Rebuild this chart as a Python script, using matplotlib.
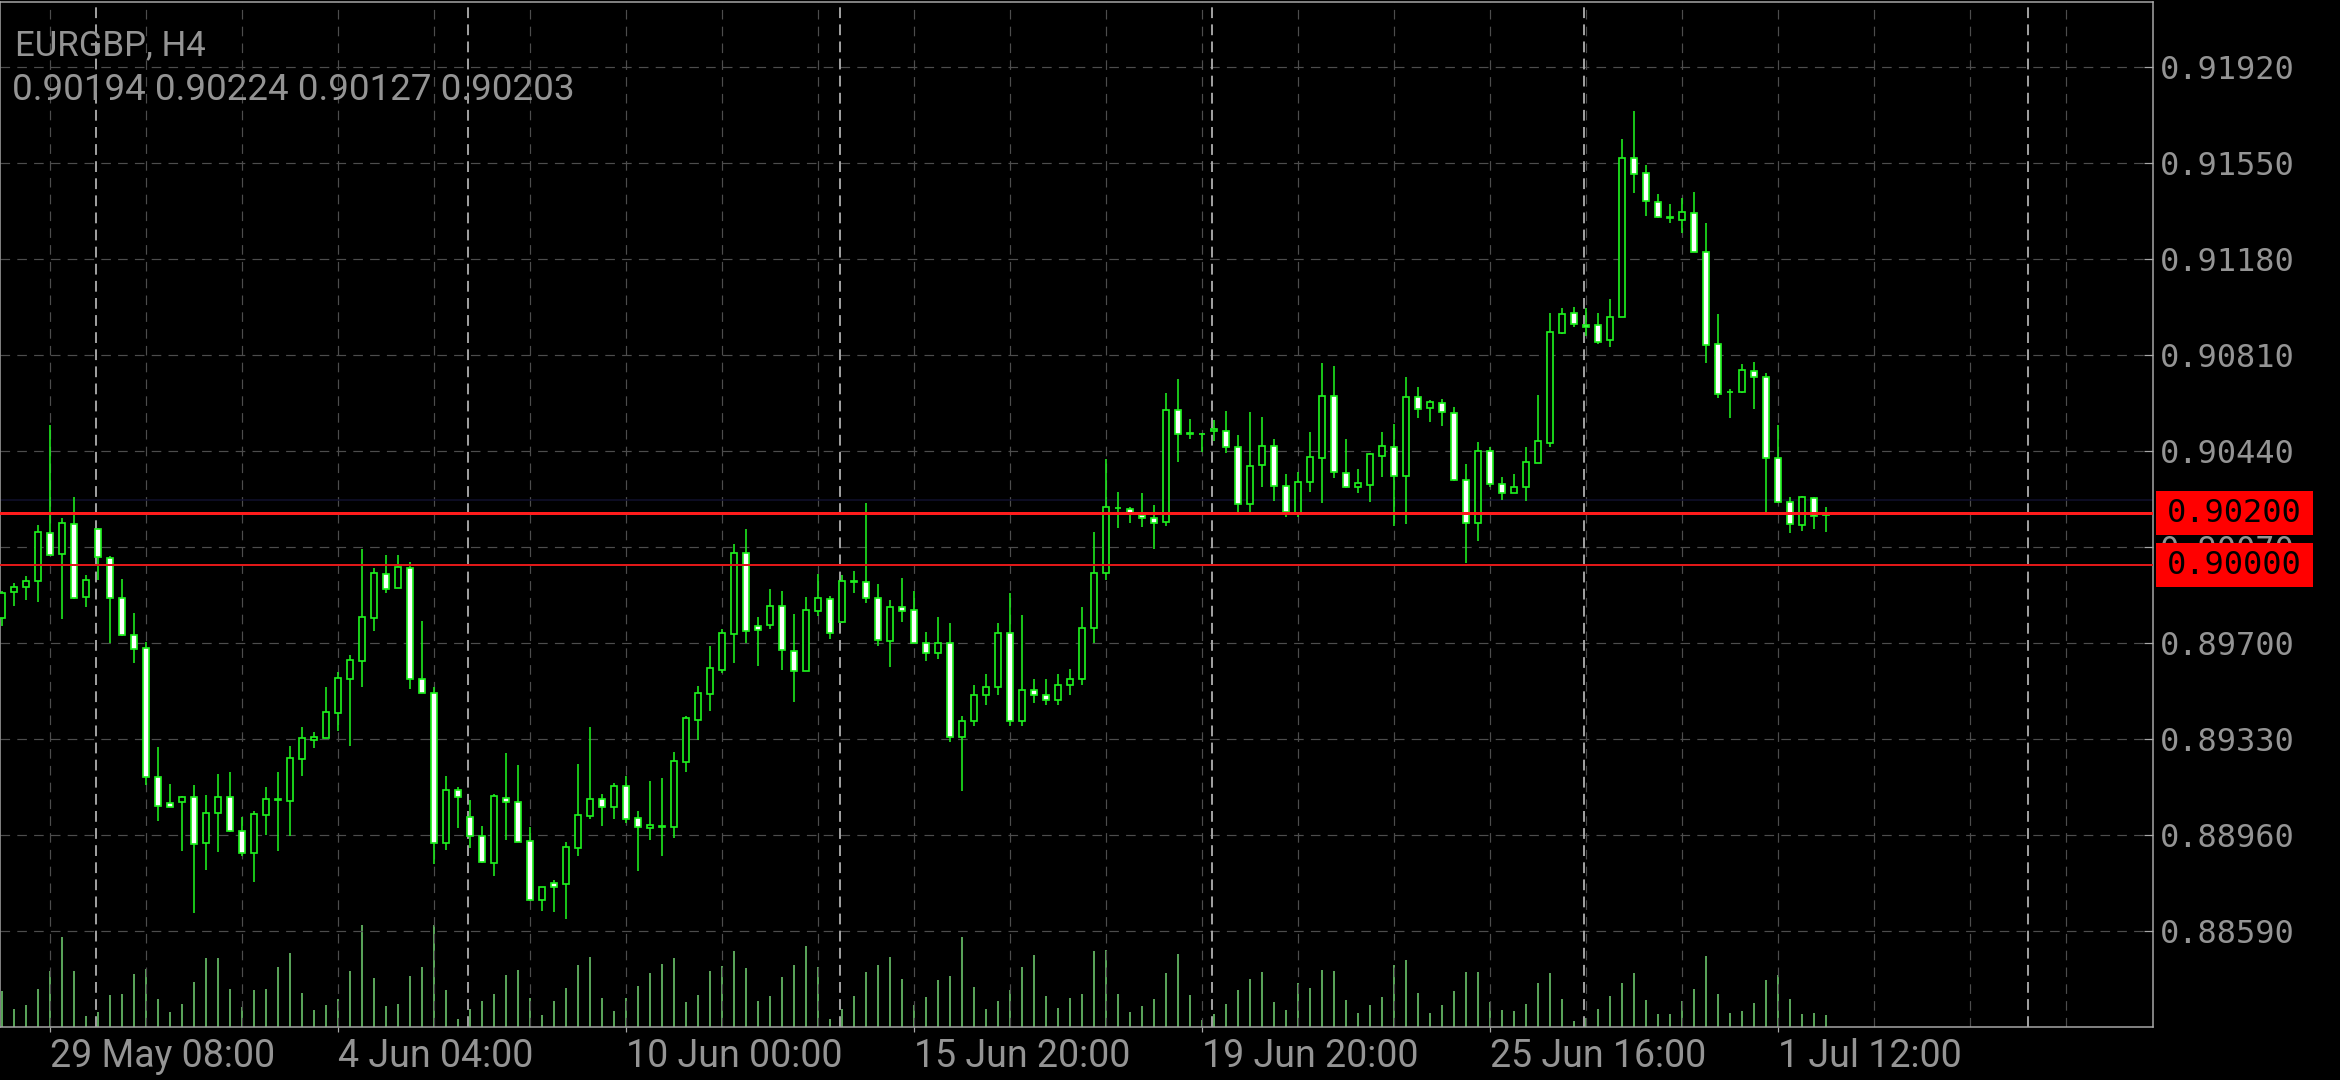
import numpy as np
import matplotlib
matplotlib.use("Agg")
import matplotlib.pyplot as plt
from matplotlib.patches import Rectangle
from matplotlib.transforms import blended_transform_factory

# ---------------- data ----------------
symbol_title = "EURGBP, H4"
last_ohlc_text = "0.90194 0.90224 0.90127 0.90203"

opens = [0.89795, 0.89896, 0.89915, 0.89939, 0.90125, 0.90043, 0.90160, 0.89879, 0.90138, 0.90029,
         0.89875, 0.89733, 0.89680, 0.89186, 0.89085, 0.89088, 0.89108, 0.88929, 0.89044, 0.89108,
         0.88978, 0.88890, 0.89038, 0.89098, 0.89092, 0.89254, 0.89327, 0.89336, 0.89430, 0.89562,
         0.89630, 0.89795, 0.89966, 0.89911, 0.89991, 0.89562, 0.89509, 0.88929, 0.89134, 0.89031,
         0.88957, 0.88852, 0.89105, 0.89089, 0.88939, 0.88711, 0.88775, 0.88772, 0.88909, 0.89034,
         0.89100, 0.89068, 0.89151, 0.89025, 0.88989, 0.88993, 0.88990, 0.89243, 0.89404, 0.89503,
         0.89597, 0.89735, 0.90048, 0.89767, 0.89770, 0.89844, 0.89670, 0.89594, 0.89824, 0.89869,
         0.89783, 0.89937, 0.89937, 0.89873, 0.89708, 0.89840, 0.89827, 0.89702, 0.89660, 0.89700,
         0.89340, 0.89400, 0.89500, 0.89530, 0.89740, 0.89400, 0.89520, 0.89500, 0.89480, 0.89540,
         0.89560, 0.89757, 0.89971, 0.90222, 0.90215, 0.90193, 0.90181, 0.90168, 0.90598, 0.90508,
         0.90506, 0.90518, 0.90518, 0.90457, 0.90236, 0.90386, 0.90461, 0.90307, 0.90202, 0.90319,
         0.90414, 0.90653, 0.90357, 0.90300, 0.90309, 0.90421, 0.90457, 0.90345, 0.90649, 0.90604,
         0.90626, 0.90588, 0.90328, 0.90164, 0.90441, 0.90313, 0.90277, 0.90300, 0.90393, 0.90472,
         0.90896, 0.90973, 0.90925, 0.90925, 0.90868, 0.90955, 0.91567, 0.91510, 0.91400, 0.91343,
         0.91330, 0.91358, 0.91205, 0.90851, 0.90669, 0.90669, 0.90748, 0.90724, 0.90414, 0.90242,
         0.90155, 0.90258, 0.90194]
highs = [0.89902, 0.89933, 0.89959, 0.90154, 0.90540, 0.90181, 0.90262, 0.89962, 0.90145, 0.90036,
         0.89947, 0.89815, 0.89706, 0.89301, 0.89156, 0.89111, 0.89153, 0.89115, 0.89196, 0.89204,
         0.89031, 0.89055, 0.89147, 0.89205, 0.89304, 0.89376, 0.89359, 0.89530, 0.89590, 0.89653,
         0.90061, 0.89991, 0.90038, 0.90038, 0.90014, 0.89785, 0.89532, 0.89188, 0.89144, 0.89096,
         0.88995, 0.89119, 0.89276, 0.89231, 0.88993, 0.88762, 0.88788, 0.88935, 0.89233, 0.89376,
         0.89119, 0.89160, 0.89188, 0.89053, 0.89169, 0.89182, 0.89282, 0.89419, 0.89535, 0.89689,
         0.89753, 0.90082, 0.90138, 0.89799, 0.89908, 0.89901, 0.89812, 0.89876, 0.89967, 0.89882,
         0.89962, 0.89978, 0.90241, 0.89928, 0.89866, 0.89952, 0.89901, 0.89744, 0.89800, 0.89776,
         0.89420, 0.89540, 0.89580, 0.89776, 0.89892, 0.89808, 0.89560, 0.89560, 0.89580, 0.89600,
         0.89840, 0.90127, 0.90408, 0.90281, 0.90223, 0.90277, 0.90231, 0.90662, 0.90716, 0.90562,
         0.90511, 0.90559, 0.90594, 0.90500, 0.90589, 0.90570, 0.90485, 0.90350, 0.90358, 0.90512,
         0.90778, 0.90767, 0.90486, 0.90369, 0.90431, 0.90512, 0.90543, 0.90724, 0.90685, 0.90636,
         0.90640, 0.90611, 0.90389, 0.90476, 0.90457, 0.90341, 0.90352, 0.90454, 0.90656, 0.90970,
         0.90990, 0.90993, 0.90990, 0.90973, 0.91024, 0.91641, 0.91751, 0.91542, 0.91430, 0.91391,
         0.91413, 0.91439, 0.91320, 0.90968, 0.90678, 0.90775, 0.90784, 0.90742, 0.90540, 0.90262,
         0.90267, 0.90262, 0.90224]
lows = [0.89766, 0.89844, 0.89866, 0.89857, 0.90038, 0.89792, 0.89869, 0.89838, 0.89943, 0.89699,
        0.89727, 0.89622, 0.89154, 0.89016, 0.89067, 0.88901, 0.88659, 0.88826, 0.88897, 0.88974,
        0.88880, 0.88781, 0.88961, 0.88901, 0.88958, 0.89190, 0.89295, 0.89333, 0.89363, 0.89305,
        0.89532, 0.89748, 0.89894, 0.89911, 0.89522, 0.89507, 0.88848, 0.88903, 0.88989, 0.88909,
        0.88854, 0.88803, 0.88942, 0.88932, 0.88708, 0.88669, 0.88666, 0.88636, 0.88880, 0.89023,
        0.88995, 0.89021, 0.89006, 0.88824, 0.88942, 0.88880, 0.88948, 0.89205, 0.89327, 0.89440,
        0.89584, 0.89625, 0.89699, 0.89613, 0.89753, 0.89597, 0.89475, 0.89594, 0.89804, 0.89716,
        0.89779, 0.89892, 0.89853, 0.89690, 0.89609, 0.89783, 0.89699, 0.89630, 0.89640, 0.89320,
        0.89130, 0.89380, 0.89460, 0.89500, 0.89380, 0.89380, 0.89470, 0.89460, 0.89460, 0.89500,
        0.89540, 0.89700, 0.89943, 0.90142, 0.90161, 0.90149, 0.90061, 0.90151, 0.90399, 0.90485,
        0.90437, 0.90480, 0.90431, 0.90206, 0.90206, 0.90300, 0.90249, 0.90184, 0.90187, 0.90283,
        0.90241, 0.90335, 0.90296, 0.90280, 0.90245, 0.90341, 0.90152, 0.90158, 0.90566, 0.90550,
        0.90538, 0.90326, 0.90007, 0.90095, 0.90303, 0.90251, 0.90277, 0.90249, 0.90393, 0.90457,
        0.90891, 0.90916, 0.90883, 0.90852, 0.90842, 0.90955, 0.91433, 0.91347, 0.91336, 0.91317,
        0.91281, 0.91205, 0.90780, 0.90643, 0.90566, 0.90662, 0.90601, 0.90206, 0.90238, 0.90123,
        0.90133, 0.90138, 0.90127]
closes = [0.89894, 0.89917, 0.89941, 0.90127, 0.90041, 0.90164, 0.89875, 0.89944, 0.90033, 0.89874,
          0.89730, 0.89679, 0.89186, 0.89074, 0.89070, 0.89108, 0.88926, 0.89044, 0.89106, 0.88976,
          0.88890, 0.89041, 0.89100, 0.89096, 0.89256, 0.89333, 0.89340, 0.89433, 0.89564, 0.89634,
          0.89799, 0.89969, 0.89907, 0.89992, 0.89560, 0.89509, 0.88931, 0.89135, 0.89108, 0.88957,
          0.88858, 0.89111, 0.89089, 0.88935, 0.88711, 0.88759, 0.88760, 0.88913, 0.89038, 0.89100,
          0.89068, 0.89151, 0.89021, 0.88993, 0.88998, 0.88996, 0.89247, 0.89413, 0.89507, 0.89603,
          0.89740, 0.90048, 0.89748, 0.89751, 0.89844, 0.89674, 0.89593, 0.89828, 0.89873, 0.89740,
          0.89941, 0.89941, 0.89873, 0.89712, 0.89840, 0.89824, 0.89702, 0.89660, 0.89700, 0.89340,
          0.89400, 0.89500, 0.89530, 0.89738, 0.89400, 0.89520, 0.89500, 0.89480, 0.89540, 0.89560,
          0.89757, 0.89969, 0.90226, 0.90219, 0.90197, 0.90183, 0.90164, 0.90598, 0.90506, 0.90504,
          0.90504, 0.90523, 0.90457, 0.90236, 0.90384, 0.90461, 0.90307, 0.90204, 0.90322, 0.90416,
          0.90653, 0.90358, 0.90303, 0.90315, 0.90428, 0.90459, 0.90345, 0.90649, 0.90602, 0.90627,
          0.90592, 0.90328, 0.90164, 0.90441, 0.90312, 0.90277, 0.90303, 0.90396, 0.90479, 0.90900,
          0.90968, 0.90929, 0.90919, 0.90861, 0.90958, 0.91567, 0.91507, 0.91403, 0.91343, 0.91338,
          0.91362, 0.91205, 0.90848, 0.90660, 0.90669, 0.90752, 0.90724, 0.90414, 0.90242, 0.90157,
          0.90262, 0.90190, 0.90203]
volumes = [107, 53, 65, 113, 167, 269, 167, 32, 45, 95,
           98, 158, 173, 83, 44, 68, 134, 206, 206, 113,
           59, 110, 113, 179, 222, 101, 50, 65, 83, 167,
           305, 146, 62, 68, 152, 179, 305, 110, 23, 53,
           77, 98, 155, 170, 86, 35, 77, 116, 185, 209,
           86, 47, 86, 122, 161, 188, 206, 74, 95, 167,
           182, 227, 176, 77, 92, 149, 185, 242, 179, 23,
           53, 92, 164, 185, 209, 143, 65, 89, 140, 152,
           269, 119, 53, 77, 110, 179, 215, 92, 56, 86,
           98, 227, 230, 98, 44, 62, 83, 161, 218, 95,
           20, 38, 68, 110, 143, 164, 74, 50, 131, 116,
           170, 167, 80, 41, 65, 89, 185, 200, 101, 41,
           65, 107, 164, 164, 74, 50, 47, 68, 131, 161,
           83, 17, 26, 53, 92, 131, 161, 80, 38, 38,
           77, 113, 212, 98, 41, 47, 71, 140, 155, 83,
           38, 41, 35]

price_ticks = [0.88590, 0.88960, 0.89330, 0.89700, 0.90070, 0.90440, 0.90810, 0.91180, 0.91550, 0.91920]
time_label_bars = [4, 28, 52, 76, 100, 124, 148]
time_labels = ["29 May 08:00", "4 Jun 04:00", "10 Jun 00:00", "15 Jun 20:00",
               "19 Jun 20:00", "25 Jun 16:00", "1 Jul 12:00"]
week_start_bars = [8, 39, 70, 101, 132, 169]
level_lines = [0.90200, 0.90000]
level_labels = ["0.90200", "0.90000"]
ask_price = 0.90250

# ---------------- layout ----------------
W, H, DPI = 2340, 1080, 100
PX = 72.0 / DPI                # points per pixel
BAR_PX = 12.0                  # pixels per bar
X0_PX = 2.0                    # pixel x of bar 0 centre
AX_RIGHT_PX = 2153.0
AX_TOP_PX, AX_BOT_PX = 1.5, 1027.0
PX_PER_PRICE = 25960.0
REF_Y_PX, REF_PRICE = 66.8, 0.91920

LIME = "#1ef01e"
GRID = "#4d4d4d"
SEP = "#b0b0b0"
TXT = "#949494"
VOLC = "#62b562"

fig = plt.figure(figsize=(W / DPI, H / DPI), dpi=DPI, facecolor="black")
rect = [0.0, 1 - AX_BOT_PX / H, AX_RIGHT_PX / W, (AX_BOT_PX - AX_TOP_PX) / H]

axv = fig.add_axes(rect, label="volume")
axv.set_facecolor("black")
ax = fig.add_axes(rect, label="price", sharex=axv)
ax.patch.set_visible(False)

xmin = (0 - X0_PX) / BAR_PX
xmax = (AX_RIGHT_PX - X0_PX) / BAR_PX
ax.set_xlim(xmin, xmax)
ymax = REF_PRICE + (REF_Y_PX - AX_TOP_PX) / PX_PER_PRICE
ymin = REF_PRICE - (AX_BOT_PX - REF_Y_PX) / PX_PER_PRICE
ax.set_ylim(ymin, ymax)

# volumes (own scale: 3 units per pixel)
axv.set_ylim(0, (AX_BOT_PX - AX_TOP_PX) * 3)
axv.axis("off")
n = len(opens)
x = np.arange(n)
axv.vlines(x, 0, volumes, color=VOLC, lw=1.8 * PX)

# grid
for gx in range(4, int(xmax) + 1, 8):
    ax.axvline(gx, color=GRID, lw=1.2 * PX, ls=(0, (8, 6)), zorder=0.5)
for p in price_ticks:
    ax.axhline(p, color=GRID, lw=1.2 * PX, ls=(0, (8, 6)), zorder=0.5)
for s in week_start_bars:
    ax.axvline(s - 0.15, color=SEP, lw=1.8 * PX, ls=(0, (6, 3.5)), zorder=0.6)

# ask line
ax.axhline(ask_price, color="#10102e", lw=1.5 * PX, zorder=1)

# candles
o = np.array(opens); h = np.array(highs); l = np.array(lows); c = np.array(closes)
ax.vlines(x, l, h, color=LIME, lw=1.6 * PX, zorder=3)
bull = c >= o
bear = ~bull
ax.bar(x[bull], c[bull] - o[bull], bottom=o[bull], width=0.46, facecolor="black",
       edgecolor=LIME, lw=1.7 * PX, zorder=4)
ax.bar(x[bear], o[bear] - c[bear], bottom=c[bear], width=0.46, facecolor="white",
       edgecolor=LIME, lw=1.7 * PX, zorder=4)

# horizontal level lines
ax.axhline(level_lines[0], color="#ff1c1c", lw=3.0 * PX, zorder=6)
ax.axhline(level_lines[1], color="#e01818", lw=2.0 * PX, zorder=6)

# spines
for sp in ax.spines.values():
    sp.set_color("#a8a8a8")
    sp.set_linewidth(1.5 * PX)

mono = ["DejaVu Sans Mono"]
# y axis on right
ax.yaxis.tick_right()
ax.set_yticks(price_ticks)
ax.set_yticklabels([f"{p:.5f}" for p in price_ticks], family=mono, fontsize=23, color=TXT)
ax.tick_params(axis="y", direction="in", length=9 * PX, width=1.2 * PX, color="#a8a8a8", pad=5)

# x axis labels
ax.set_xticks(time_label_bars)
ax.set_xticklabels(time_labels, family=["Roboto", "DejaVu Sans"], fontsize=27, color=TXT)
for lab in ax.get_xticklabels():
    lab.set_horizontalalignment("left")
ax.tick_params(axis="x", direction="out", length=5 * PX, width=1.2 * PX, color="#a8a8a8", pad=4)

# red price labels
bt = blended_transform_factory(fig.transFigure, ax.transData)
half = 22.0 / PX_PER_PRICE
for lev, txt in zip(level_lines, level_labels):
    r = Rectangle((2156 / W, lev - half), 157 / W, 2 * half, transform=bt,
                  facecolor="#ff0000", edgecolor="none", clip_on=False, zorder=10)
    ax.add_patch(r)
    ax.text(2167 / W, lev, txt, transform=bt, family=mono, fontsize=23, color="black",
            va="center", ha="left", clip_on=False, zorder=11)

# header
fig.text(15 / W, 1 - 55 / H, symbol_title, family=["Roboto", "DejaVu Sans"], fontsize=25,
         color=TXT, va="baseline", ha="left")
fig.text(12 / W, 1 - 100 / H, last_ohlc_text, family=["Roboto", "DejaVu Sans"], fontsize=26.5,
         color=TXT, va="baseline", ha="left")

fig.savefig("out.png", dpi=DPI, facecolor="black")
